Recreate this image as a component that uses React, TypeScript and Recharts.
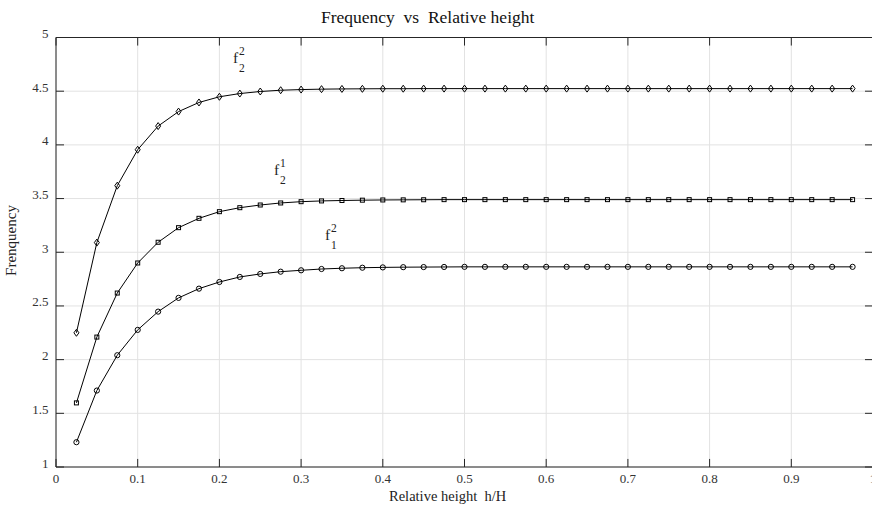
import React from 'react';
import { LineChart, Line, XAxis, YAxis, CartesianGrid, ReferenceLine, ReferenceDot } from 'recharts';

// relative height h/H sampled at each marker
const X_VALUES = [
  0.025, 0.05, 0.075, 0.1, 0.125, 0.15, 0.175, 0.2, 0.225, 0.25,
  0.275, 0.3, 0.325, 0.35, 0.375, 0.4, 0.425, 0.45, 0.475, 0.5,
  0.525, 0.55, 0.575, 0.6, 0.625, 0.65, 0.675, 0.7, 0.725, 0.75,
  0.775, 0.8, 0.825, 0.85, 0.875, 0.9, 0.925, 0.95, 0.975,
];

// f_2^2 (diamonds)
const F22 = [
  2.25, 3.09, 3.62, 3.955, 4.175, 4.31, 4.395, 4.448, 4.478, 4.497,
  4.509, 4.515, 4.519, 4.521, 4.522, 4.523, 4.523, 4.524, 4.524, 4.524,
  4.524, 4.524, 4.524, 4.524, 4.524, 4.524, 4.524, 4.524, 4.524, 4.524,
  4.524, 4.524, 4.524, 4.524, 4.524, 4.524, 4.524, 4.524, 4.524,
];

// f_2^1 (squares)
const F21 = [
  1.597, 2.21, 2.62, 2.9, 3.093, 3.229, 3.316, 3.378, 3.415, 3.44,
  3.459, 3.471, 3.478, 3.482, 3.485, 3.487, 3.488, 3.489, 3.49, 3.49,
  3.49, 3.49, 3.49, 3.49, 3.49, 3.49, 3.49, 3.49, 3.49, 3.49,
  3.49, 3.49, 3.49, 3.49, 3.49, 3.49, 3.49, 3.49, 3.49,
];

// f_1^2 (circles)
const F12 = [
  1.231, 1.712, 2.041, 2.277, 2.447, 2.575, 2.661, 2.723, 2.77, 2.798,
  2.819, 2.832, 2.844, 2.851, 2.856, 2.859, 2.861, 2.862, 2.863, 2.864,
  2.864, 2.864, 2.864, 2.864, 2.864, 2.864, 2.864, 2.864, 2.864, 2.864,
  2.864, 2.864, 2.864, 2.864, 2.864, 2.864, 2.864, 2.864, 2.864,
];

const X_TICKS = [0, 0.1, 0.2, 0.3, 0.4, 0.5, 0.6, 0.7, 0.8, 0.9, 1];
const Y_TICKS = [1, 1.5, 2, 2.5, 3, 3.5, 4, 4.5, 5];

// curve annotations, placed in data coordinates
const CURVE_LABELS = [
  { x: 0.2166, y: 4.763, sup: '2', sub: '2' },
  { x: 0.2668, y: 3.72, sup: '1', sub: '2' },
  { x: 0.3293, y: 3.115, sup: '2', sub: '1' },
];

const FONT = "'Liberation Serif', 'Times New Roman', serif";
const AXIS_COLOR = '#262626';
const TEXT_COLOR = '#333';

// plot box (MATLAB style axes, right edge falls just outside the picture)
const PLOT = { left: 56, top: 37.5, right: 873, bottom: 467 };
const CHART_W = 880;
const CHART_H = 507;
// inward tick length (~8px) expressed in axis units
const TICK_DX = 0.0098;
const TICK_DY = 0.075;

const tableData = X_VALUES.map((x, i) => ({ x, f22: F22[i], f21: F21[i], f12: F12[i] }));

const renderXTick = (props: any) => {
  const { x, payload, index } = props;
  return (
    <text key={`xt-${index}`} x={x} y={PLOT.bottom + 16} textAnchor="middle" fontFamily={FONT} fontSize={13} fill={TEXT_COLOR}>
      {String(payload.value)}
    </text>
  );
};

const renderYTick = (props: any) => {
  const { y, payload, index } = props;
  return (
    <text key={`yt-${index}`} x={PLOT.left - 7.5} y={y + 0.5} textAnchor="end" fontFamily={FONT} fontSize={13} fill={TEXT_COLOR}>
      {String(payload.value)}
    </text>
  );
};

const diamondDot = (p: any) => (
  <path
    key={`d-${p.index}`}
    d={`M${p.cx},${p.cy - 3.5}L${p.cx + 2.5},${p.cy}L${p.cx},${p.cy + 3.5}L${p.cx - 2.5},${p.cy}Z`}
    fill="none"
    stroke="#000"
    strokeWidth={1}
  />
);

const squareDot = (p: any) => (
  <rect key={`s-${p.index}`} x={p.cx - 2} y={p.cy - 2} width={4} height={4} fill="none" stroke="#000" strokeWidth={1} />
);

const circleDot = (p: any) => (
  <circle key={`c-${p.index}`} cx={p.cx} cy={p.cy} r={2.6} fill="none" stroke="#000" strokeWidth={1} />
);

const CurveLabel = (props: any) => {
  const { cx, cy, sup, sub } = props;
  return (
    <g fontFamily={FONT} fill="#222">
      <text x={cx} y={cy} fontSize={15.5}>f</text>
      <text x={cx + 6} y={cy - 8} fontSize={11.5}>{sup}</text>
      <text x={cx + 6} y={cy + 9.5} fontSize={11.5}>{sub}</text>
    </g>
  );
};

export default function App() {
  return (
    <div style={{ position: 'absolute', left: 0, top: 0, width: 872, height: 507, overflow: 'hidden', background: '#fff' }}>
      <LineChart
        width={CHART_W}
        height={CHART_H}
        data={tableData}
        margin={{ top: PLOT.top, right: CHART_W - PLOT.right, bottom: 0, left: 0 }}
      >
        <CartesianGrid stroke="#e2e2e2" />
        <XAxis
          dataKey="x"
          type="number"
          domain={[0, 1]}
          ticks={X_TICKS}
          interval={0}
          height={CHART_H - PLOT.bottom}
          tickSize={0}
          tickMargin={0}
          tickLine={false}
          axisLine={{ stroke: AXIS_COLOR }}
          tick={renderXTick}
        />
        <YAxis
          type="number"
          domain={[1, 5]}
          ticks={Y_TICKS}
          interval={0}
          width={PLOT.left}
          tickSize={0}
          tickMargin={0}
          tickLine={false}
          axisLine={{ stroke: AXIS_COLOR }}
          tick={renderYTick}
        />
        {/* box edges */}
        <ReferenceLine y={5} stroke={AXIS_COLOR} />
        <ReferenceLine x={1} stroke={AXIS_COLOR} />
        {/* inward tick marks on all four sides */}
        {X_TICKS.map((t) => (
          <ReferenceLine key={`xb-${t}`} segment={[{ x: t, y: 1 }, { x: t, y: 1 + TICK_DY }]} stroke={AXIS_COLOR} />
        ))}
        {X_TICKS.map((t) => (
          <ReferenceLine key={`xt-${t}`} segment={[{ x: t, y: 5 }, { x: t, y: 5 - TICK_DY }]} stroke={AXIS_COLOR} />
        ))}
        {Y_TICKS.map((t) => (
          <ReferenceLine key={`yl-${t}`} segment={[{ x: 0, y: t }, { x: TICK_DX, y: t }]} stroke={AXIS_COLOR} />
        ))}
        {Y_TICKS.map((t) => (
          <ReferenceLine key={`yr-${t}`} segment={[{ x: 1, y: t }, { x: 1 - TICK_DX, y: t }]} stroke={AXIS_COLOR} />
        ))}
        <Line dataKey="f22" type="linear" stroke="#000" strokeWidth={1} dot={diamondDot} activeDot={false} isAnimationActive={false} />
        <Line dataKey="f21" type="linear" stroke="#000" strokeWidth={1} dot={squareDot} activeDot={false} isAnimationActive={false} />
        <Line dataKey="f12" type="linear" stroke="#000" strokeWidth={1} dot={circleDot} activeDot={false} isAnimationActive={false} />
        {CURVE_LABELS.map((l, i) => (
          <ReferenceDot
            key={`lbl-${i}`}
            x={l.x}
            y={l.y}
            r={0}
            shape={(p: any) => <CurveLabel {...p} sup={l.sup} sub={l.sub} />}
          />
        ))}
      </LineChart>
      <svg
        width={872}
        height={507}
        style={{ position: 'absolute', left: 0, top: 0, pointerEvents: 'none' }}
      >
        <text x={321} y={22.5} fontFamily={FONT} fontSize={17.5} fill="#111" style={{ whiteSpace: 'pre' }}>
          {'Frequency  vs  Relative height'}
        </text>
        <text x={389} y={501} fontFamily={FONT} fontSize={14.5} fill="#222" style={{ whiteSpace: 'pre' }}>
          {'Relative height  h/H'}
        </text>
        <text
          x={16}
          y={240.5}
          transform="rotate(-90 16 240.5)"
          textAnchor="middle"
          fontFamily={FONT}
          fontSize={15}
          fill="#222"
        >
          Frenquency
        </text>
      </svg>
    </div>
  );
}
